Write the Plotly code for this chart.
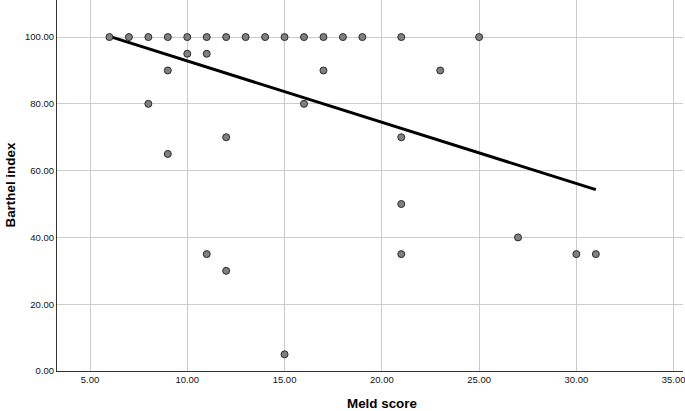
import plotly.graph_objects as go

# Scatter data (Meld score vs Barthel index)
meld = [6, 7, 8, 9, 10, 11, 12, 13, 14, 15, 16, 17, 18, 19, 21, 25,
        10, 11,
        9, 17, 23,
        8, 16,
        12, 21,
        9,
        21,
        27,
        11, 21, 30, 31,
        12,
        15]
barthel = [100] * 16 + \
          [95, 95] + \
          [90, 90, 90] + \
          [80, 80] + \
          [70, 70] + \
          [65] + \
          [50] + \
          [40] + \
          [35, 35, 35, 35] + \
          [30] + \
          [5]

# Fit line endpoints
fit_x = [6, 31]
fit_y = [100.2, 54.3]

x_ticks = [5, 10, 15, 20, 25, 30, 35]
y_ticks = [0, 20, 40, 60, 80, 100]

fig = go.Figure()
fig.add_trace(go.Scatter(
    x=fit_x, y=fit_y, mode="lines",
    line=dict(color="black", width=3),
    hoverinfo="skip", showlegend=False))
fig.add_trace(go.Scatter(
    x=meld, y=barthel, mode="markers",
    marker=dict(size=7, color="#808080", line=dict(color="#2a2a2a", width=1)),
    cliponaxis=False,
    showlegend=False))

font_family = "Liberation Sans, Arial, sans-serif"
fig.update_layout(
    width=685, height=411,
    margin=dict(l=57, r=2, t=0, b=40, autoexpand=False),
    paper_bgcolor="white", plot_bgcolor="white",
    font=dict(family=font_family, color="#111111", size=10),
    xaxis=dict(
        range=[3.304, 35.48], automargin=False,
        tickvals=x_ticks, ticktext=[f"{v:.2f}" for v in x_ticks],
        showgrid=True, gridcolor="#cccccc", gridwidth=1,
        showline=True, linecolor="#333333", linewidth=1,
        zeroline=False, ticks="", tickfont=dict(size=9.5, color="#111111"),
        ticklabeloverflow="allow",
    ),
    yaxis=dict(
        range=[0, 111.1], automargin=False,
        tickvals=y_ticks, ticktext=[f"{v:.2f}" for v in y_ticks],
        showgrid=True, gridcolor="#cccccc", gridwidth=1,
        showline=True, linecolor="#333333", linewidth=1,
        zeroline=False, ticks="", tickfont=dict(size=9.5, color="#111111"),
        ticklabeloverflow="allow",
    ),
    annotations=[
        dict(text="<b>Meld score</b>", xref="paper", yref="paper",
             x=(382 - 57) / 626, y=-(404 - 371) / 371,
             xanchor="center", yanchor="middle", showarrow=False,
             font=dict(size=13.4, color="black", family=font_family)),
        dict(text="<b>Barthel index</b>", xref="paper", yref="paper",
             x=-(57 - 10) / 626, y=0.5, textangle=-90,
             xanchor="center", yanchor="middle", showarrow=False,
             font=dict(size=13.4, color="black", family=font_family)),
    ],
)

fig.write_html("out.html", config={"displayModeBar": False},
               post_script="document.body.style.margin='0';")
